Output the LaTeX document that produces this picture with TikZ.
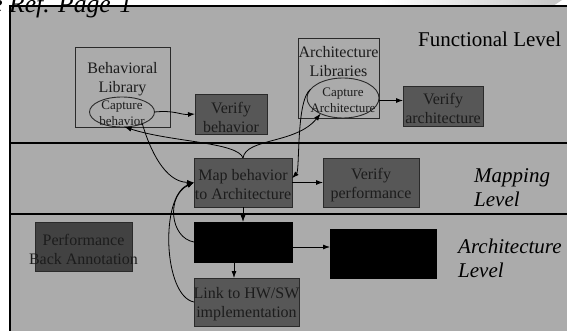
\documentclass[tikz,border=0pt]{standalone}
\usepackage{fontspec}
\setmainfont{Liberation Serif}
\usetikzlibrary{shapes.geometric,arrows.meta}
\definecolor{panel}{HTML}{ABABAB}
\definecolor{boxm}{HTML}{575757}
\definecolor{boxd}{HTML}{424242}
\definecolor{edge}{HTML}{2A2A2A}
\definecolor{ink}{HTML}{1C1C1C}
\begin{document}
\begin{tikzpicture}[x=1pt,y=-1pt,
  bx/.style={draw=edge, line width=0.9pt, inner sep=0, outer sep=0, rectangle},
  lib/.style={bx},
  dark/.style={bx, fill=boxm},
  darker/.style={bx, fill=boxd},
  blk/.style={bx, draw=black, fill=black},
  ell/.style={draw=edge, line width=0.9pt, ellipse, inner sep=0, outer sep=0},
  t16/.style={font=\fontsize{16}{19}\selectfont, align=center, text=ink, inner sep=0},
  t13/.style={font=\fontsize{13}{16}\selectfont, align=center, text=ink, inner sep=0},
  lvl/.style={font=\itshape\fontsize{21}{24}\selectfont, align=left, text=black, inner sep=0, anchor=west},
  arr/.style={draw=black, line width=0.8pt, -{Latex[length=7pt,width=5pt]}}
]
\useasboundingbox (0,0) rectangle (567,331);
% top-right soft shading
\shade[left color=white, right color=gray!45] (380,0) -- (562,0) -- (553,6) -- (380,6) -- cycle;
% panel
\fill[panel] (10,6) rectangle (570,335);
\draw[line width=1.1pt] (10,335) -- (10,6) -- (570,6);
\draw[line width=1.1pt] (10,143) -- (570,143);
\draw[line width=1.1pt] (10,214) -- (570,214);
% title
\node[font=\itshape\fontsize{25.6}{30}\selectfont, anchor=base west, inner sep=0] (title) at (-8.8,13) {e Ref. Page-1};
\node[font=\fontsize{21}{24}\selectfont, anchor=base west, inner sep=0, text=black] (funclvl) at (418,47) {Functional Level};
\node[lvl] (maplvl) at (474,188) {Mapping\\Level};
\node[lvl] (archlvl) at (458,258.5) {Architecture\\Level};

% functional level
\node[lib, minimum width=95, minimum height=80] (behlib) at (122.5,87) {};
\node[t16] (behlibt) at (122.5,79) {Behavioral\\Library};
\node[ell, minimum width=65, minimum height=30] (capbeh) at (122,112) {};
\node[t13] (capbeht) at (122,113.5) {Capture\\behavior};
\node[dark, minimum width=72, minimum height=40] (verbeh) at (231,114) {};
\node[t16] (verbeht) at (231,117) {Verify\\behavior};

\node[lib, minimum width=81, minimum height=80] (archlib) at (338.5,78) {};
\node[t16] (archlibt) at (338.5,62) {Architecture\\Libraries};
\node[ell, minimum width=72, minimum height=40] (caparch) at (343,98) {};
\node[t13] (caparcht) at (343,100) {Capture\\Architecture};
\node[dark, minimum width=80, minimum height=40] (verarch) at (443,106) {};
\node[t16] (verarcht) at (443,108.5) {Verify\\architecture};

% mapping level
\node[dark, minimum width=98, minimum height=49] (mapbeh) at (243,182.5) {};
\node[t16] (mapbeht) at (243,185) {Map behavior\\to Architecture};
\node[dark, minimum width=96, minimum height=49] (verperf) at (371,182.5) {};
\node[t16] (verperft) at (371,185) {Verify\\performance};

% architecture level
\node[darker, minimum width=97, minimum height=49] (perfba) at (83.5,246.5) {};
\node[t16] (perfbat) at (83.5,249) {Performance\\Back Annotation};
\node[blk, minimum width=98, minimum height=40] (blk1) at (243,242) {};
\node[blk, minimum width=106, minimum height=49] (blk2) at (383,253.5) {};
\node[dark, minimum width=105, minimum height=48] (link) at (246.5,302) {};
\node[t16] (linkt) at (246.5,304.5) {Link to HW/SW\\implementation};

\coordinate (lk) at (234,0);
\coordinate (hy) at (0,247);

% connectors
\draw[arr] (capbeh.east) .. controls (175,110) and (180,115) .. (verbeh.west);
\draw[arr] (caparch.-4) -- (caparch.-4 -| verarch.west);
\draw[arr] (mapbeh.north) .. controls (238,142) and (170,142) .. (capbeh.-80);
\draw[arr] (mapbeh.north) .. controls (246,138) and (296,144) .. (caparch.-145);
\draw[arr] (capbeh.-30) .. controls (150,150) and (165,182) .. (mapbeh.west);
\draw[arr] (caparch.165) .. controls (296,100) and (300,170) .. (mapbeh.5);
\draw[arr] (mapbeh.east) -- (verperf.west);
\draw[arr] (mapbeh.south) -- (blk1.north);
\draw[arr] (blk1.south -| lk) -- (link.north -| lk);
\draw[arr] (blk1.east |- hy) -- (blk2.west |- hy);
\draw[arr] (blk1.west) .. controls (170,238) and (166,196) .. (mapbeh.west);
\draw[arr] (link.west) .. controls (163,296) and (160,196) .. (mapbeh.west);
\end{tikzpicture}
\end{document}
